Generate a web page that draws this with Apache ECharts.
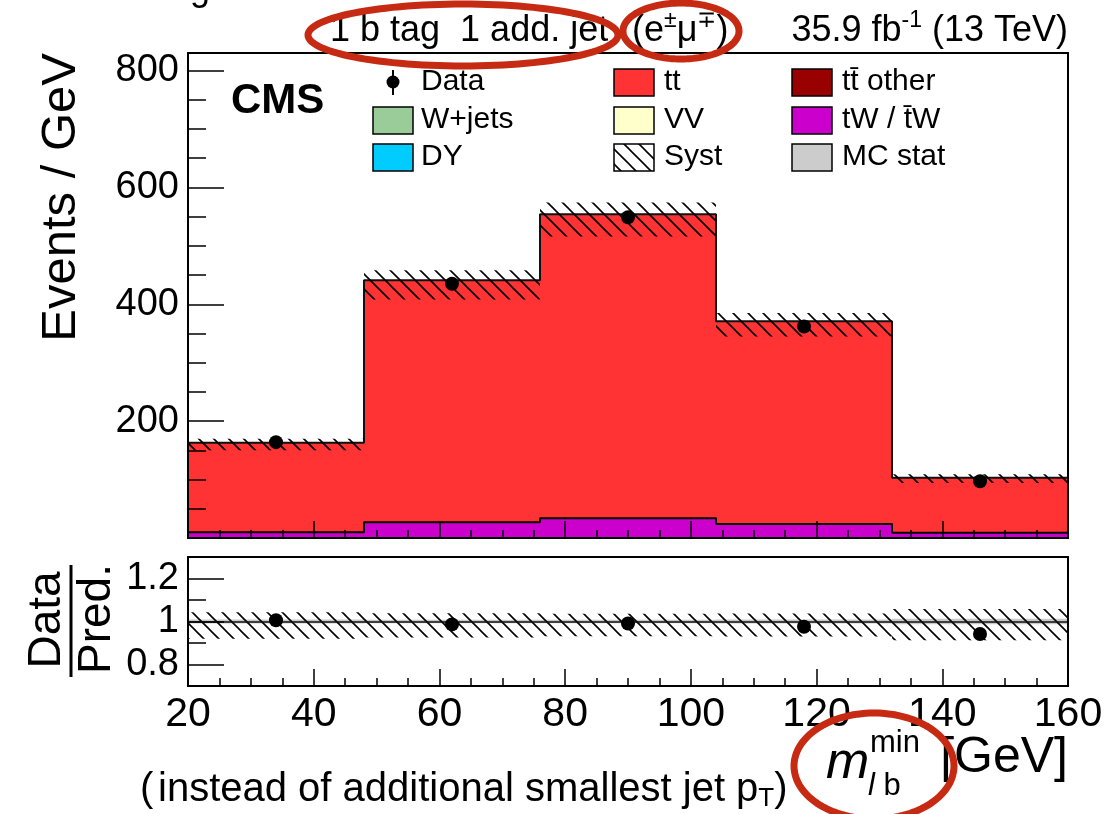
<!DOCTYPE html>
<html>
<head>
<meta charset="utf-8">
<script src="https://cdn.jsdelivr.net/npm/echarts@6/dist/echarts.min.js"></script>
<style>
html, body {margin: 0; padding: 0; background: #fff;}
#main {width: 1110px; height: 814px;}
</style>
</head>
<body>
<div id="main"></div>
<script>
// bins of m_lb^min [GeV], values in events / GeV
const binEdges = [20, 48, 76, 104, 132, 160];
const ttbar = [153, 414, 520, 347, 94];
const tW = [10, 27, 34, 24, 9];
const dataVals = [164, 435, 549, 362, 97];
const systUp = [7, 17, 20, 14, 6];
const systDown = [13, 33, 38, 26, 9];
const mcStatRel = [0.009, 0.008, 0.008, 0.009, 0.013];

const xTicks = [20, 40, 60, 80, 100, 120, 140, 160];
const yMajor = [0, 200, 400, 600, 800];
const yLabels = [200, 400, 600, 800];
const ratioMajor = [0.8, 1, 1.2];
const ratioMinor = [0.9, 1.1];

const FONT = '"Liberation Sans", Arial, Helvetica, sans-serif';
const RED = '#ff3333', MAGENTA = '#cc00cc', CIRCLE = '#c62a12';

const total = ttbar.map((v, i) => v + tW[i]);
const centers = binEdges.slice(0, -1).map((e, i) => (e + binEdges[i + 1]) / 2);
const yMinor = [];
for (let v = 50; v < 830; v += 50) if (v % 200) yMinor.push(v);

function hatch(size, lw) {
	const c = document.createElement('canvas');
	c.width = c.height = size;
	const g = c.getContext('2d');
	g.strokeStyle = '#000';
	g.lineWidth = lw;
	g.beginPath();
	for (const k of [-1, 0, 1]) {
		g.moveTo(k * size - 1, -1);
		g.lineTo(k * size + size + 1, size + 1);
	}
	g.stroke();
	return c;
}
const hatchMain = {image: hatch(15, 1.6), repeat: 'repeat'};
const hatchRatio = {image: hatch(15, 1.6), repeat: 'repeat'};

// one rectangle per bin: [x0, x1, y0, y1]
function boxes(name, xi, yi, lo, hi, fill, z) {
	return {
		type: 'custom', name, xAxisIndex: xi, yAxisIndex: yi, z, silent: true,
		data: lo.map((v, i) => [binEdges[i], binEdges[i + 1], v, hi[i]]),
		encode: {x: [0, 1], y: [2, 3]},
		renderItem(params, api) {
			const a = api.coord([api.value(0), api.value(3)]);
			const b = api.coord([api.value(1), api.value(2)]);
			return {type: 'rect', shape: {x: a[0], y: a[1], width: b[0] - a[0], height: b[1] - a[1]}, style: {fill, stroke: null}};
		}
	};
}

function stepLine(vals, color) {
	return {
		type: 'line', xAxisIndex: 0, yAxisIndex: 0, step: 'end', symbol: 'none', silent: true, z: 4,
		data: binEdges.map((e, i) => [e, vals[Math.min(i, vals.length - 1)]]),
		lineStyle: {color, width: 2}
	};
}

const zeros = tW.map(() => 0);
const ratio = dataVals.map((v, i) => [centers[i], v / total[i]]);

function axisX(gi, labels) {
	return {
		gridIndex: gi, type: 'value', min: 20, max: 160, interval: 20, z: 10,
		axisLine: {show: false}, splitLine: {show: false},
		axisTick: {inside: true, length: 17, lineStyle: {color: '#000', width: 1.5}},
		minorTick: {show: true, splitNumber: 4, length: 8, lineStyle: {color: '#000', width: 1.5}},
		axisLabel: {show: labels, fontSize: 41, fontFamily: FONT, color: '#000', margin: 8}
	};
}
function axisY(gi, min, max, ticks, labels, len) {
	return {
		gridIndex: gi, type: 'value', position: 'left', min, max, offset: 0, z: 10,
		axisLine: {show: false}, splitLine: {show: false},
		axisTick: {inside: true, length: len, customValues: ticks, lineStyle: {color: '#000', width: 1.5}},
		axisLabel: labels
			? {show: true, customValues: labels, fontSize: 38, fontFamily: FONT, color: '#000', margin: 9}
			: {show: false}
	};
}

function ellipse(cx, cy, rx, ry) {
	const pts = [];
	for (let i = 0; i < 120; i++) {
		const t = i / 120 * Math.PI * 2;
		pts.push([cx + rx * Math.cos(t), cy + ry * Math.sin(t)]);
	}
	return {type: 'polygon', z: 120, shape: {points: pts}, style: {fill: 'transparent', stroke: CIRCLE, lineWidth: 7}};
}

function txt(x, y, text, size, extra) {
	return {type: 'text', x, y, z: 110, style: Object.assign({text, fontSize: size, fontFamily: FONT, fill: '#000', verticalAlign: 'middle'}, extra || {})};
}

const legendBox = (x, y, fill) => ({type: 'rect', z: 110, shape: {x, y: y - 13, width: 40, height: 27}, style: {fill, stroke: '#000', lineWidth: 1.5}});
const rows = [82, 120, 157];
const legend = [
	{type: 'line', z: 110, shape: {x1: 393, y1: 70, x2: 393, y2: 95}, style: {stroke: '#000', lineWidth: 2}},
	{type: 'circle', z: 110, shape: {cx: 393, cy: 82, r: 6.5}, style: {fill: '#000'}},
	txt(421, rows[0], 'Data', 30),
	legendBox(373, rows[1], '#99cc99'), txt(421, rows[1], 'W+jets', 30),
	legendBox(373, rows[2], '#00ccff'), txt(421, rows[2], 'DY', 30),
	legendBox(614, rows[0], RED), txt(664, rows[0], 'tt', 30),
	legendBox(614, rows[1], '#ffffcc'), txt(664, rows[1], 'VV', 30),
	legendBox(614, rows[2], hatchMain), txt(664, rows[2], 'Syst', 30),
	legendBox(792, rows[0], '#990000'), txt(842, rows[0], 't\u0074\u0304 other', 30),
	legendBox(792, rows[1], MAGENTA), txt(842, rows[1], 'tW / t\u0304W', 30),
	legendBox(792, rows[2], '#cccccc'), txt(842, rows[2], 'MC stat', 30)
];

const dots = {color: '#000', opacity: 1};

const chart = echarts.init(document.getElementById('main'));
chart.setOption({
	animation: false,
	backgroundColor: '#fff',
	grid: [
		{left: 188, top: 53, width: 880, height: 485, outerBoundsMode: 'none'},
		{left: 188, top: 557, width: 880, height: 129, outerBoundsMode: 'none'}
	],
	xAxis: [axisX(0, false), axisX(1, true)],
	yAxis: [
		axisY(0, 0, 830, yMajor, yLabels, 36),
		axisY(0, 0, 830, yMinor, null, 18),
		axisY(1, 0.7, 1.3, ratioMajor, ratioMajor, 36),
		axisY(1, 0.7, 1.3, ratioMinor, null, 18)
	],
	series: [
		boxes('tW', 0, 0, zeros, tW, MAGENTA, 2),
		boxes('tt', 0, 0, tW, total, RED, 2),
		stepLine(tW, '#000'),
		stepLine(total, '#111'),
		boxes('Syst', 0, 0, total.map((v, i) => v - systDown[i]), total.map((v, i) => v + systUp[i]), hatchMain, 5),
		{type: 'scatter', xAxisIndex: 0, yAxisIndex: 0, z: 6, symbolSize: 14, itemStyle: dots,
			data: dataVals.map((v, i) => [centers[i], v])},
		boxes('MC stat', 1, 2, mcStatRel.map(r => 1 - r), mcStatRel.map(r => 1 + r), '#c8c8c8', 2),
		boxes('Syst ratio', 1, 2, systDown.map((d, i) => 1 - d / total[i]), systUp.map((u, i) => 1 + u / total[i]), hatchRatio, 4),
		{type: 'scatter', xAxisIndex: 1, yAxisIndex: 2, z: 6, symbolSize: 14, itemStyle: dots, data: ratio,
			markLine: {silent: true, symbol: 'none', label: {show: false}, lineStyle: {color: '#111', width: 1.5, type: 'solid'},
				data: [{yAxis: 1}]}}
	],
	graphic: [
		{type: 'rect', z: 100, shape: {x: 188, y: 53, width: 880, height: 485}, style: {fill: 'transparent', stroke: '#000', lineWidth: 2}},
		{type: 'rect', z: 100, shape: {x: 188, y: 557, width: 880, height: 129}, style: {fill: 'transparent', stroke: '#000', lineWidth: 2}},
		txt(190, -10, 'g', 36),
		txt(330, 31, '1 b tag  1 add. jet', 36),
		txt(632, 31, '{a|(e}{s|\u00b1}{a|\u03bc}{s|\u2213}{a|)}', 36, {rich: {
			a: {fontSize: 36, fontFamily: FONT}, s: {fontSize: 23, fontFamily: FONT, padding: [0, 0, 20, 0]}}}),
		txt(1068, 31, '{a|35.9 fb}{s|-1}{a| (13 TeV)}', 36, {align: 'right', rich: {
			a: {fontSize: 36, fontFamily: FONT}, s: {fontSize: 23, fontFamily: FONT, padding: [0, 0, 20, 0]}}}),
		txt(231, 101, 'CMS', 42, {fontWeight: 'bold'}),
		...legend,
		{type: 'text', x: 61, y: 53, rotation: Math.PI / 2, z: 110,
			style: {text: 'Events / GeV', fontSize: 49, fontFamily: FONT, fill: '#000', align: 'right', verticalAlign: 'middle'}},
		{type: 'text', x: 47, y: 620, rotation: Math.PI / 2, z: 110,
			style: {text: 'Data', fontSize: 46, fontFamily: FONT, fill: '#000', align: 'center', verticalAlign: 'middle'}},
		{type: 'text', x: 97, y: 619, rotation: Math.PI / 2, z: 110,
			style: {text: 'Pred.', fontSize: 46, fontFamily: FONT, fill: '#000', align: 'center', verticalAlign: 'middle'}},
		{type: 'line', z: 110, shape: {x1: 71, y1: 565, x2: 71, y2: 677}, style: {stroke: '#000', lineWidth: 3}},
		txt(826, 764, 'm', 52, {fontStyle: 'italic'}),
		txt(870, 743, 'min', 31),
		txt(868, 786, '{i|l}{a| b}', 31, {rich: {i: {fontSize: 31, fontStyle: 'italic', fontFamily: FONT}, a: {fontSize: 31, fontFamily: FONT}}}),
		txt(1068, 758, '[GeV]', 50, {align: 'right'}),
		txt(140, 790, '(', 40),
		txt(158, 790, '{a|instead of additional smallest jet p}{b|T}{a|)}', 40, {rich: {
			a: {fontSize: 40, fontFamily: FONT}, b: {fontSize: 26, fontFamily: FONT, padding: [18, 0, 0, 0]}}}),
		ellipse(463, 35, 155, 31),
		ellipse(681, 31, 58, 28),
		ellipse(874, 766, 80, 53)
	]
});
</script>
</body>
</html>
